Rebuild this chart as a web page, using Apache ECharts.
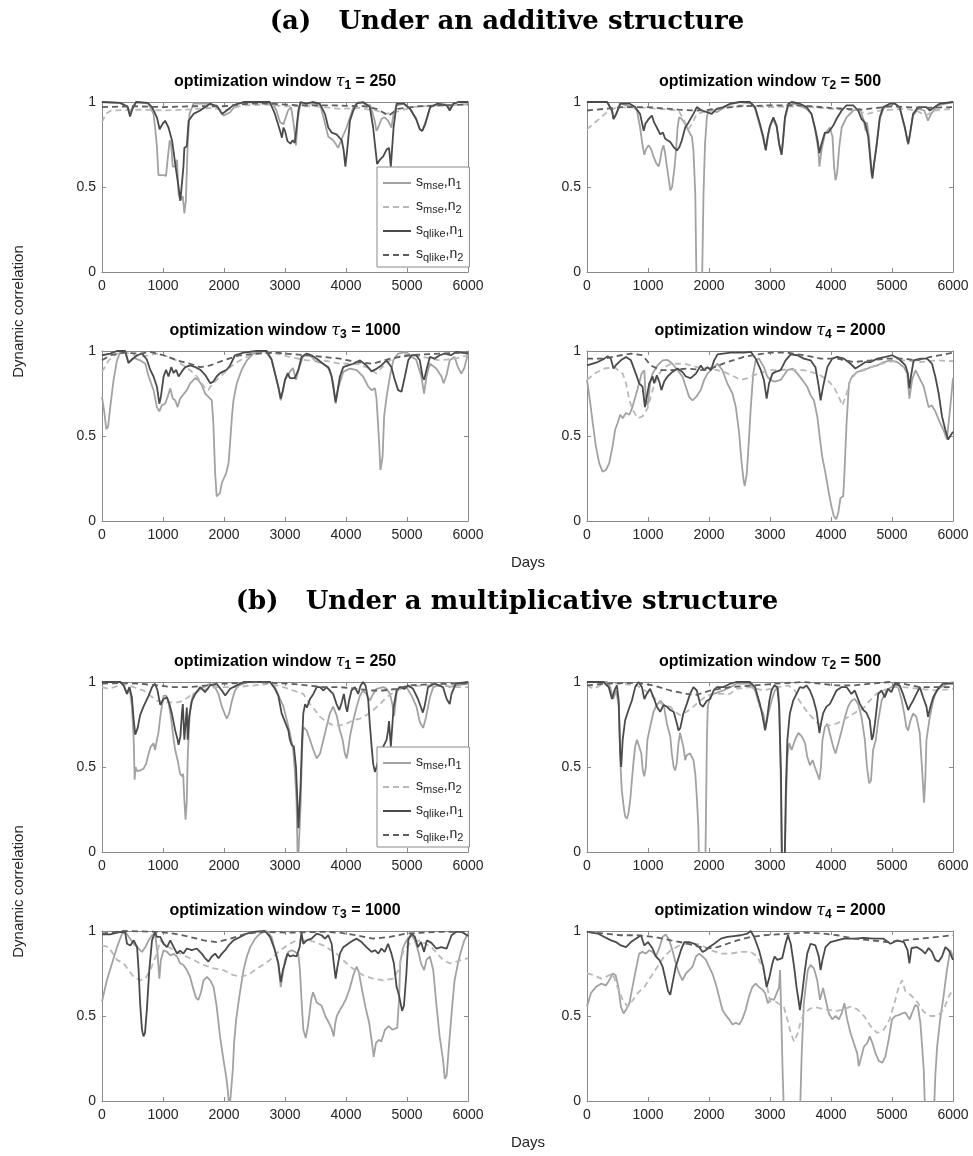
<!DOCTYPE html>
<html><head><meta charset="utf-8">
<script src="https://cdn.jsdelivr.net/npm/echarts@6/dist/echarts.min.js"></script>
<style>html,body{margin:0;padding:0;background:#fff}#c{width:973px;height:1156px}</style>
</head><body><div id="c"></div>
<script>
// ---------- data: [day, dynamic correlation] ----------
const A1_MSE_N1=[[0,1.0],[300,0.995],[420,0.975],[460,0.93],[500,0.97],[560,1.0],[760,0.99],[790,0.98],[845,0.93],[870,0.85],[900,0.74],[925,0.57],[955,0.56],[1010,0.57],[1050,0.565],[1075,0.66],[1110,0.775],[1135,0.745],[1160,0.62],[1200,0.62],[1230,0.66],[1255,0.46],[1280,0.42],[1325,0.445],[1350,0.345],[1375,0.42],[1405,0.755],[1435,0.93],[1500,0.99],[1700,0.99],[1880,0.98],[1935,0.95],[1990,0.92],[2100,0.94],[2210,0.99],[2500,1.0],[2800,0.99],[2860,0.95],[2920,0.88],[2975,0.87],[3050,0.95],[3100,0.97],[3150,0.85],[3180,0.745],[3210,0.9],[3250,0.99],[3500,0.99],[3580,0.98],[3630,0.91],[3710,0.795],[3790,0.775],[3845,0.745],[3870,0.73],[3910,0.765],[3950,0.8],[4010,0.85],[4065,0.91],[4120,0.97],[4200,1.0],[4400,0.98],[4470,0.89],[4500,0.83],[4530,0.85],[4580,0.9],[4635,0.91],[4690,0.89],[4745,0.85],[4780,0.93],[4830,0.98],[4950,0.99],[5050,0.96],[5150,0.9],[5210,0.84],[5250,0.83],[5300,0.88],[5380,0.97],[5500,0.99],[5650,0.985],[5700,0.96],[5760,0.99],[5850,1.0],[6000,0.995]];
const A1_MSE_N2=[[0,0.88],[60,0.93],[150,0.95],[600,0.955],[1000,0.95],[1400,0.955],[1800,0.965],[2000,0.95],[2300,0.98],[2700,0.985],[3000,0.975],[3500,0.975],[3900,0.96],[4200,0.965],[4500,0.95],[4650,0.93],[4800,0.94],[5100,0.97],[5500,0.98],[6000,0.985]];
const A1_QLIKE_N1=[[0,1.0],[300,0.995],[420,0.97],[460,0.915],[500,0.96],[560,1.0],[750,0.995],[820,0.97],[900,0.91],[945,0.84],[990,0.87],[1035,0.89],[1090,0.85],[1150,0.77],[1215,0.6],[1255,0.5],[1285,0.42],[1310,0.43],[1335,0.62],[1350,0.73],[1390,0.74],[1420,0.89],[1500,0.93],[1610,0.95],[1770,0.99],[1900,0.97],[1965,0.93],[2045,0.95],[2150,0.98],[2320,1.0],[2750,1.0],[2835,0.93],[2920,0.83],[2950,0.79],[2975,0.85],[3000,0.83],[3040,0.77],[3090,0.755],[3125,0.775],[3160,0.76],[3190,0.85],[3220,0.95],[3255,1.0],[3350,0.99],[3450,1.0],[3570,0.99],[3655,0.93],[3710,0.85],[3765,0.82],[3845,0.81],[3930,0.775],[3960,0.72],[3990,0.62],[4020,0.72],[4065,0.89],[4120,0.95],[4175,0.99],[4280,1.0],[4390,0.97],[4445,0.85],[4490,0.70],[4510,0.635],[4555,0.66],[4610,0.68],[4665,0.72],[4705,0.73],[4735,0.62],[4780,0.85],[4830,0.99],[4950,0.99],[5050,0.96],[5150,0.9],[5210,0.84],[5250,0.83],[5300,0.87],[5380,0.97],[5500,0.99],[5650,0.98],[5700,0.95],[5760,0.99],[5850,1.0],[6000,1.0]];
const A1_QLIKE_N2=[[0,0.97],[500,0.975],[1000,0.97],[1500,0.975],[2000,0.975],[2400,0.99],[2800,0.99],[3200,0.98],[3800,0.98],[4300,0.975],[4500,0.96],[4700,0.92],[4850,0.96],[5200,0.975],[6000,0.985]];

const A2_MSE_N1=[[0,1.0],[330,1.0],[410,0.95],[435,0.9],[480,0.93],[545,0.99],[765,0.97],[820,0.95],[870,0.85],[915,0.735],[940,0.69],[970,0.725],[1010,0.745],[1050,0.725],[1090,0.68],[1135,0.64],[1175,0.62],[1200,0.66],[1225,0.715],[1255,0.745],[1280,0.7],[1310,0.62],[1335,0.56],[1365,0.48],[1395,0.5],[1430,0.6],[1460,0.715],[1485,0.85],[1510,0.91],[1555,0.9],[1610,0.87],[1665,0.83],[1720,0.795],[1745,0.715],[1775,0.46],[1800,-0.2],[1880,-0.2],[1910,0.46],[1935,0.755],[1965,0.91],[1990,0.95],[2050,0.95],[2125,0.94],[2300,0.98],[2500,1.0],[2700,0.99],[2755,0.96],[2835,0.86],[2890,0.78],[2930,0.72],[2965,0.8],[3000,0.86],[3055,0.9],[3110,0.85],[3150,0.75],[3190,0.69],[3215,0.78],[3245,0.9],[3300,0.98],[3400,0.99],[3600,0.96],[3680,0.93],[3735,0.85],[3790,0.72],[3810,0.62],[3845,0.72],[3900,0.81],[3980,0.85],[4025,0.795],[4050,0.62],[4075,0.54],[4100,0.58],[4135,0.735],[4175,0.85],[4255,0.91],[4365,0.95],[4475,0.96],[4530,0.9],[4570,0.83],[4590,0.88],[4620,0.8],[4660,0.62],[4680,0.57],[4710,0.65],[4750,0.76],[4800,0.9],[4860,0.96],[4960,0.99],[5050,0.99],[5130,0.96],[5210,0.85],[5265,0.75],[5290,0.8],[5345,0.92],[5430,0.96],[5530,0.95],[5590,0.89],[5640,0.93],[5750,0.98],[6000,1.0]];
const A2_MSE_N2=[[0,0.84],[165,0.89],[330,0.94],[490,0.97],[1000,0.965],[1500,0.95],[1580,0.9],[1660,0.84],[1720,0.87],[1800,0.93],[2000,0.95],[2500,0.98],[3000,0.97],[3500,0.975],[4000,0.96],[4400,0.95],[4600,0.93],[4800,0.95],[5200,0.96],[5400,0.95],[5550,0.92],[5700,0.95],[6000,0.96]];
const A2_QLIKE_N1=[[0,1.0],[330,1.0],[410,0.95],[435,0.9],[480,0.93],[545,0.99],[700,0.99],[790,0.97],[870,0.93],[930,0.83],[955,0.87],[1010,0.9],[1065,0.92],[1100,0.88],[1145,0.85],[1200,0.81],[1245,0.82],[1280,0.785],[1320,0.775],[1365,0.765],[1420,0.735],[1475,0.715],[1515,0.735],[1555,0.775],[1610,0.85],[1665,0.88],[1745,0.93],[1800,0.97],[1880,0.95],[1965,0.94],[2045,0.93],[2125,0.96],[2235,0.97],[2345,0.99],[2510,1.0],[2670,1.0],[2755,0.97],[2835,0.87],[2890,0.795],[2930,0.715],[2965,0.8],[3000,0.86],[3055,0.91],[3110,0.86],[3150,0.755],[3190,0.69],[3215,0.78],[3245,0.91],[3300,0.99],[3355,1.0],[3490,0.99],[3600,0.97],[3680,0.93],[3735,0.85],[3780,0.775],[3810,0.7],[3845,0.755],[3900,0.82],[3955,0.82],[4035,0.86],[4090,0.9],[4175,0.95],[4255,0.98],[4365,0.98],[4445,0.95],[4500,0.9],[4555,0.88],[4610,0.795],[4635,0.7],[4665,0.58],[4680,0.55],[4700,0.62],[4745,0.735],[4800,0.91],[4855,0.97],[4965,0.99],[5050,0.99],[5125,0.97],[5210,0.85],[5265,0.755],[5290,0.8],[5345,0.93],[5430,0.97],[5565,0.97],[5620,0.95],[5700,0.97],[5780,0.99],[6000,1.0]];
const A2_QLIKE_N2=[[0,0.95],[300,0.96],[600,0.97],[1000,0.97],[1500,0.955],[1800,0.95],[2000,0.955],[2500,0.975],[3000,0.98],[3500,0.98],[4000,0.965],[4500,0.955],[5000,0.975],[5500,0.965],[6000,0.97]];

const A3_MSE_N1=[[0,0.73],[40,0.635],[70,0.54],[100,0.555],[135,0.67],[190,0.83],[245,0.945],[300,0.995],[380,0.995],[435,0.93],[520,0.96],[625,0.945],[710,0.925],[765,0.85],[845,0.77],[900,0.67],[940,0.645],[980,0.68],[1035,0.69],[1075,0.73],[1120,0.78],[1160,0.72],[1200,0.71],[1240,0.67],[1280,0.72],[1325,0.74],[1390,0.77],[1445,0.81],[1530,0.84],[1580,0.83],[1635,0.8],[1690,0.75],[1745,0.73],[1800,0.71],[1825,0.575],[1855,0.28],[1880,0.145],[1910,0.135],[1935,0.165],[1965,0.225],[1990,0.235],[2035,0.28],[2075,0.34],[2100,0.46],[2130,0.615],[2155,0.71],[2210,0.81],[2290,0.89],[2375,0.945],[2480,0.985],[2670,1.0],[2780,0.95],[2835,0.87],[2890,0.79],[2930,0.71],[2965,0.76],[3000,0.83],[3080,0.877],[3130,0.9],[3180,0.83],[3230,0.9],[3300,0.97],[3400,0.98],[3500,0.94],[3625,0.925],[3735,0.89],[3790,0.81],[3830,0.69],[3870,0.78],[3955,0.877],[4065,0.897],[4175,0.887],[4280,0.85],[4365,0.79],[4420,0.77],[4475,0.78],[4500,0.72],[4540,0.48],[4565,0.3],[4600,0.38],[4625,0.615],[4665,0.73],[4720,0.85],[4775,0.945],[4855,0.985],[4990,0.995],[5075,0.965],[5150,0.95],[5235,0.85],[5280,0.75],[5320,0.85],[5375,0.925],[5480,0.897],[5565,0.85],[5600,0.81],[5650,0.86],[5700,0.945],[5780,0.965],[5835,0.905],[5890,0.867],[5940,0.9],[6000,0.985]];
const A3_MSE_N2=[[0,0.877],[110,0.945],[245,0.985],[400,0.99],[625,0.965],[900,0.985],[1010,0.975],[1175,0.955],[1335,0.915],[1445,0.887],[1555,0.85],[1635,0.81],[1690,0.78],[1745,0.77],[1775,0.79],[1880,0.83],[1990,0.867],[2100,0.905],[2265,0.945],[2430,0.975],[2650,0.99],[2800,0.99],[3080,0.965],[3355,0.945],[3625,0.945],[3900,0.925],[4175,0.925],[4390,0.897],[4500,0.867],[4580,0.9],[4720,0.945],[4990,0.985],[5265,0.965],[5535,0.945],[5800,0.955],[6000,0.975]];
const A3_QLIKE_N1=[[0,0.975],[135,0.985],[245,1.0],[380,1.0],[435,0.93],[490,0.95],[575,0.975],[655,0.985],[735,0.95],[790,0.89],[845,0.85],[900,0.79],[940,0.69],[965,0.73],[1010,0.85],[1050,0.89],[1090,0.85],[1135,0.905],[1175,0.87],[1215,0.89],[1255,0.85],[1310,0.88],[1365,0.905],[1445,0.915],[1530,0.905],[1610,0.89],[1690,0.86],[1775,0.81],[1825,0.82],[1880,0.85],[1935,0.87],[1990,0.88],[2045,0.89],[2100,0.915],[2180,0.975],[2320,0.99],[2535,1.0],[2700,1.0],[2780,0.95],[2835,0.87],[2890,0.79],[2930,0.72],[2965,0.77],[3000,0.83],[3045,0.87],[3080,0.84],[3160,0.84],[3220,0.89],[3270,0.965],[3355,0.985],[3435,0.975],[3520,0.955],[3625,0.925],[3710,0.905],[3765,0.85],[3800,0.77],[3830,0.70],[3855,0.75],[3900,0.85],[3955,0.905],[4035,0.915],[4120,0.925],[4230,0.945],[4335,0.915],[4420,0.88],[4500,0.895],[4580,0.915],[4665,0.945],[4745,0.905],[4800,0.83],[4855,0.77],[4910,0.76],[4965,0.85],[5020,0.945],[5075,0.975],[5150,0.975],[5210,0.945],[5255,0.85],[5280,0.83],[5320,0.89],[5375,0.965],[5450,0.955],[5535,0.975],[5620,0.985],[5720,0.975],[5810,0.995],[6000,0.985]];
const A3_QLIKE_N2=[[0,0.945],[135,0.975],[355,0.99],[625,0.985],[790,0.995],[1010,0.975],[1230,0.945],[1445,0.925],[1610,0.905],[1775,0.915],[1990,0.945],[2265,0.975],[2535,0.985],[2860,0.99],[3000,0.985],[3500,0.97],[3900,0.955],[4175,0.935],[4445,0.925],[4720,0.955],[5050,0.975],[5535,0.985],[6000,0.99]];

const A4_MSE_N1=[[0,0.83],[40,0.73],[95,0.575],[145,0.44],[200,0.34],[255,0.29],[310,0.3],[365,0.34],[420,0.44],[460,0.535],[500,0.575],[545,0.625],[585,0.605],[640,0.635],[695,0.625],[745,0.67],[800,0.74],[855,0.81],[895,0.867],[940,0.887],[965,0.71],[995,0.68],[1035,0.81],[1075,0.867],[1155,0.915],[1240,0.945],[1320,0.948],[1400,0.925],[1485,0.887],[1565,0.85],[1620,0.79],[1675,0.73],[1730,0.71],[1790,0.73],[1865,0.77],[1920,0.83],[1975,0.867],[2030,0.887],[2085,0.905],[2140,0.925],[2220,0.887],[2300,0.81],[2385,0.75],[2440,0.67],[2495,0.515],[2530,0.36],[2565,0.245],[2585,0.205],[2620,0.28],[2655,0.48],[2685,0.67],[2725,0.867],[2765,0.945],[2820,0.955],[2900,0.905],[2955,0.85],[3010,0.83],[3075,0.82],[3175,0.83],[3285,0.887],[3370,0.897],[3450,0.867],[3530,0.83],[3610,0.79],[3665,0.74],[3720,0.71],[3775,0.615],[3820,0.48],[3855,0.38],[3910,0.28],[3965,0.165],[4005,0.09],[4045,0.03],[4085,0.01],[4120,0.05],[4155,0.135],[4200,0.145],[4220,0.28],[4255,0.575],[4295,0.81],[4345,0.85],[4430,0.877],[4540,0.887],[4650,0.905],[4760,0.915],[4865,0.935],[4975,0.945],[5085,0.935],[5195,0.905],[5250,0.867],[5285,0.72],[5330,0.83],[5385,0.887],[5465,0.83],[5520,0.79],[5600,0.67],[5655,0.68],[5710,0.645],[5790,0.575],[5845,0.535],[5900,0.48],[5955,0.67],[6000,0.84]];
const A4_MSE_N2=[[0,0.83],[120,0.867],[285,0.897],[450,0.905],[585,0.867],[640,0.81],[695,0.71],[745,0.655],[830,0.605],[910,0.615],[995,0.665],[1075,0.77],[1155,0.85],[1240,0.897],[1375,0.925],[1590,0.925],[1810,0.905],[2030,0.897],[2245,0.877],[2410,0.85],[2520,0.83],[2630,0.84],[2795,0.867],[3010,0.887],[3285,0.89],[3555,0.887],[3775,0.867],[3940,0.83],[4045,0.79],[4130,0.73],[4185,0.68],[4240,0.73],[4320,0.83],[4430,0.877],[4650,0.905],[4920,0.935],[5195,0.945],[5470,0.935],[5740,0.945],[6000,0.94]];
const A4_QLIKE_N1=[[0,0.915],[175,0.935],[285,0.955],[340,0.97],[390,0.955],[435,0.897],[470,0.915],[555,0.945],[640,0.965],[720,0.945],[800,0.867],[855,0.81],[910,0.79],[950,0.67],[980,0.73],[1020,0.81],[1075,0.85],[1100,0.81],[1145,0.857],[1185,0.82],[1220,0.77],[1265,0.82],[1320,0.85],[1400,0.877],[1485,0.897],[1565,0.877],[1620,0.85],[1700,0.84],[1785,0.867],[1865,0.915],[1920,0.887],[1975,0.905],[2030,0.887],[2085,0.945],[2140,0.98],[2355,0.99],[2575,0.99],[2685,0.995],[2765,0.955],[2850,0.887],[2900,0.83],[2945,0.72],[2985,0.81],[3040,0.867],[3090,0.877],[3175,0.887],[3255,0.945],[3340,0.98],[3450,0.975],[3555,0.955],[3665,0.945],[3745,0.905],[3800,0.79],[3830,0.71],[3870,0.79],[3940,0.905],[4020,0.955],[4100,0.965],[4210,0.955],[4320,0.925],[4400,0.897],[4480,0.915],[4565,0.935],[4650,0.935],[4760,0.955],[4895,0.965],[5000,0.975],[5110,0.955],[5220,0.915],[5260,0.867],[5285,0.78],[5310,0.85],[5355,0.945],[5465,0.955],[5575,0.955],[5655,0.925],[5710,0.85],[5765,0.75],[5820,0.615],[5875,0.535],[5920,0.48],[5955,0.5],[6000,0.525]];
const A4_QLIKE_N2=[[0,0.955],[285,0.955],[555,0.975],[720,0.985],[910,0.975],[1045,0.915],[1210,0.887],[1375,0.887],[1650,0.897],[1920,0.887],[2085,0.905],[2300,0.935],[2575,0.965],[2795,0.98],[3010,0.99],[3285,0.99],[3555,0.975],[3830,0.955],[4100,0.955],[4375,0.935],[4650,0.945],[4920,0.955],[5195,0.955],[5410,0.945],[5630,0.965],[6000,0.99]];

const B1_MSE_N1=[[0,1.0],[300,1.0],[355,0.98],[410,0.93],[450,0.97],[490,0.855],[520,0.66],[535,0.425],[550,0.5],[575,0.475],[625,0.48],[680,0.49],[725,0.52],[765,0.58],[800,0.62],[845,0.64],[870,0.6],[900,0.66],[925,0.7],[955,0.795],[980,0.855],[1010,0.92],[1050,0.92],[1090,0.88],[1130,0.795],[1175,0.66],[1200,0.6],[1240,0.54],[1280,0.46],[1310,0.445],[1330,0.46],[1350,0.305],[1370,0.19],[1390,0.3],[1405,0.56],[1430,0.755],[1455,0.87],[1500,0.93],[1580,0.95],[1665,0.97],[1770,0.99],[1850,0.97],[1910,0.93],[1965,0.855],[2020,0.805],[2045,0.785],[2085,0.815],[2130,0.89],[2180,0.95],[2240,0.98],[2400,1.0],[2755,1.0],[2835,0.97],[2920,0.9],[2975,0.855],[3030,0.775],[3080,0.7],[3135,0.6],[3165,0.46],[3190,0.29],[3210,-0.1],[3235,-0.1],[3255,0.27],[3280,0.6],[3300,0.735],[3355,0.715],[3410,0.66],[3465,0.6],[3520,0.55],[3575,0.58],[3630,0.66],[3680,0.735],[3735,0.815],[3790,0.855],[3845,0.805],[3900,0.715],[3945,0.66],[3980,0.58],[4010,0.55],[4035,0.6],[4065,0.68],[4120,0.775],[4175,0.855],[4230,0.92],[4280,0.95],[4335,0.93],[4390,0.89],[4445,0.93],[4500,0.96],[4610,0.97],[4665,0.96],[4720,0.93],[4760,0.87],[4790,0.8],[4830,0.94],[4880,0.97],[4990,0.97],[5075,0.92],[5155,0.855],[5210,0.765],[5265,0.73],[5310,0.79],[5375,0.91],[5430,0.97],[5600,0.99],[5700,0.97],[5800,0.98],[6000,0.99]];
const B1_MSE_N2=[[0,0.97],[100,0.96],[200,0.97],[350,0.99],[520,0.97],[680,0.95],[790,0.92],[900,0.89],[1065,0.88],[1230,0.88],[1335,0.89],[1445,0.92],[1610,0.95],[1880,0.97],[2200,0.97],[2500,0.98],[2750,0.99],[2975,0.97],[3135,0.95],[3300,0.93],[3410,0.87],[3490,0.835],[3575,0.795],[3680,0.765],[3790,0.745],[3900,0.745],[4010,0.755],[4120,0.775],[4230,0.785],[4335,0.805],[4445,0.835],[4555,0.87],[4665,0.91],[4830,0.95],[4990,0.97],[5265,0.98],[5540,0.98],[5810,0.97],[6000,0.97]];
const B1_QLIKE_N1=[[0,1.0],[300,1.0],[355,0.98],[410,0.93],[450,0.97],[490,0.91],[520,0.775],[545,0.69],[585,0.73],[625,0.805],[680,0.855],[765,0.92],[820,0.97],[870,0.99],[910,0.95],[955,0.865],[1010,0.9],[1065,0.91],[1105,0.87],[1145,0.815],[1200,0.715],[1240,0.66],[1255,0.63],[1285,0.68],[1310,0.815],[1325,0.87],[1350,0.66],[1375,0.78],[1390,0.85],[1405,0.66],[1430,0.8],[1475,0.89],[1530,0.93],[1610,0.97],[1690,0.94],[1770,0.98],[1880,0.99],[1965,0.95],[2020,0.92],[2100,0.96],[2210,0.98],[2320,1.0],[2755,1.0],[2835,0.96],[2890,0.92],[2945,0.815],[3000,0.765],[3055,0.715],[3080,0.66],[3110,0.63],[3145,0.62],[3180,0.5],[3200,0.325],[3220,0.14],[3235,0.15],[3255,0.385],[3280,0.66],[3300,0.815],[3330,0.87],[3360,0.85],[3410,0.9],[3465,0.93],[3520,0.97],[3575,0.97],[3630,0.95],[3680,0.97],[3735,0.95],[3790,0.93],[3845,0.87],[3890,0.835],[3930,0.88],[3965,0.93],[4000,0.85],[4020,0.825],[4050,0.89],[4090,0.95],[4145,0.97],[4200,0.93],[4240,0.98],[4280,1.0],[4320,0.98],[4365,0.89],[4390,0.755],[4420,0.62],[4445,0.52],[4475,0.47],[4500,0.5],[4555,0.58],[4610,0.62],[4665,0.66],[4690,0.715],[4705,0.77],[4735,0.62],[4780,0.85],[4830,0.95],[4880,0.97],[4960,0.96],[5020,0.98],[5100,0.96],[5180,0.9],[5230,0.85],[5260,0.82],[5290,0.86],[5345,0.97],[5450,0.99],[5590,0.97],[5650,0.9],[5700,0.87],[5730,0.93],[5800,0.99],[6000,1.0]];
const B1_QLIKE_N2=[[0,0.99],[350,0.995],[625,0.99],[900,0.98],[1170,0.97],[1445,0.97],[1720,0.98],[1990,0.99],[2540,1.0],[3080,0.99],[3355,0.98],[3630,0.97],[3900,0.97],[4175,0.96],[4445,0.95],[4610,0.95],[4830,0.96],[5040,0.98],[5540,0.99],[6000,0.99]];

const B2_MSE_N1=[[0,1.0],[330,1.0],[380,0.97],[430,0.9],[480,0.95],[520,0.855],[545,0.54],[570,0.365],[600,0.27],[625,0.21],[655,0.195],[680,0.23],[710,0.31],[735,0.42],[765,0.54],[790,0.62],[820,0.66],[855,0.62],[890,0.58],[915,0.48],[940,0.445],[965,0.5],[990,0.66],[1035,0.735],[1090,0.825],[1145,0.865],[1200,0.89],[1255,0.87],[1310,0.755],[1365,0.68],[1390,0.58],[1420,0.5],[1445,0.48],[1470,0.52],[1500,0.64],[1525,0.7],[1550,0.71],[1580,0.62],[1610,0.54],[1635,0.57],[1690,0.58],[1745,0.54],[1775,0.46],[1800,0.325],[1825,0.15],[1845,-0.2],[1935,-0.2],[1950,0.2],[1965,0.66],[1980,0.855],[2020,0.92],[2075,0.93],[2155,0.94],[2235,0.95],[2345,0.97],[2450,0.99],[2560,0.99],[2670,0.99],[2755,0.95],[2835,0.855],[2890,0.815],[2930,0.735],[2970,0.81],[3025,0.89],[3080,0.95],[3130,0.97],[3150,0.89],[3180,0.36],[3200,-0.2],[3235,-0.2],[3260,0.27],[3285,0.56],[3315,0.64],[3355,0.6],[3410,0.66],[3465,0.7],[3520,0.68],[3575,0.64],[3610,0.56],[3655,0.51],[3700,0.54],[3735,0.5],[3775,0.46],[3810,0.425],[3835,0.5],[3860,0.66],[3900,0.735],[3940,0.755],[3980,0.7],[4035,0.62],[4075,0.58],[4120,0.64],[4175,0.715],[4230,0.795],[4280,0.855],[4335,0.89],[4390,0.9],[4445,0.87],[4500,0.795],[4555,0.66],[4590,0.5],[4625,0.405],[4655,0.42],[4690,0.6],[4735,0.66],[4775,0.775],[4830,0.89],[4910,0.95],[4990,0.97],[5045,0.98],[5100,0.97],[5155,0.9],[5200,0.815],[5235,0.735],[5265,0.715],[5300,0.77],[5345,0.815],[5400,0.795],[5455,0.7],[5480,0.56],[5510,0.385],[5525,0.29],[5545,0.42],[5565,0.66],[5620,0.795],[5675,0.89],[5730,0.95],[5810,0.97],[5900,0.99],[6000,1.0]];
const B2_MSE_N2=[[0,0.98],[110,0.96],[270,0.99],[545,0.99],[820,0.98],[1035,0.93],[1145,0.89],[1255,0.865],[1365,0.855],[1445,0.825],[1530,0.805],[1635,0.825],[1745,0.855],[1855,0.89],[1965,0.92],[2075,0.93],[2235,0.93],[2345,0.93],[2450,0.96],[2670,0.97],[2890,0.95],[3130,0.97],[3300,0.98],[3410,0.95],[3465,0.9],[3545,0.855],[3655,0.805],[3765,0.765],[3870,0.735],[3980,0.745],[4090,0.755],[4200,0.775],[4310,0.8],[4420,0.825],[4530,0.845],[4635,0.89],[4745,0.93],[4850,0.95],[5020,0.97],[5180,0.97],[5455,0.96],[5730,0.95],[6000,0.96]];
const B2_QLIKE_N1=[[0,1.0],[270,1.0],[355,0.97],[410,0.9],[450,0.95],[490,0.98],[520,0.89],[545,0.58],[560,0.5],[585,0.66],[625,0.775],[680,0.835],[735,0.89],[790,0.97],[845,1.0],[900,0.97],[940,0.9],[980,0.93],[1035,0.96],[1090,0.91],[1145,0.855],[1200,0.825],[1255,0.865],[1310,0.855],[1365,0.835],[1420,0.825],[1475,0.755],[1500,0.715],[1530,0.73],[1580,0.815],[1635,0.87],[1690,0.93],[1745,0.97],[1800,0.95],[1855,0.87],[1900,0.855],[1965,0.89],[2020,0.9],[2075,0.95],[2130,0.97],[2235,0.97],[2345,0.99],[2450,1.0],[2670,1.0],[2755,0.97],[2835,0.87],[2880,0.795],[2920,0.715],[2950,0.78],[2990,0.89],[3025,0.95],[3070,0.98],[3120,0.97],[3150,0.855],[3180,0.46],[3200,-0.2],[3235,-0.2],[3260,0.365],[3285,0.66],[3325,0.815],[3380,0.89],[3435,0.93],[3490,0.97],[3545,0.965],[3600,0.98],[3655,0.95],[3710,0.9],[3765,0.825],[3810,0.7],[3835,0.755],[3870,0.815],[3925,0.855],[3980,0.87],[4035,0.91],[4090,0.95],[4175,0.97],[4255,0.97],[4335,0.93],[4390,0.95],[4475,0.87],[4530,0.835],[4580,0.82],[4635,0.775],[4670,0.66],[4690,0.68],[4720,0.755],[4775,0.93],[4830,0.95],[4880,0.91],[4935,0.96],[4990,0.94],[5045,0.99],[5125,0.98],[5180,0.93],[5235,0.87],[5265,0.835],[5290,0.855],[5345,0.89],[5400,0.93],[5455,0.97],[5510,0.91],[5565,0.855],[5590,0.795],[5630,0.855],[5675,0.91],[5755,0.96],[5835,0.99],[6000,0.99]];
const B2_QLIKE_N2=[[0,0.98],[270,0.99],[820,0.995],[1090,0.98],[1365,0.95],[1635,0.93],[1800,0.925],[2020,0.95],[2345,0.97],[2730,0.98],[3080,0.99],[3545,1.0],[3820,0.99],[4090,0.98],[4365,0.98],[4635,0.99],[4965,1.0],[5180,0.99],[5455,0.97],[5730,0.97],[6000,0.97]];

const B3_MSE_N1=[[0,0.585],[80,0.71],[165,0.81],[245,0.905],[330,0.985],[385,0.995],[440,0.965],[520,0.925],[600,0.897],[655,0.877],[710,0.905],[765,0.945],[820,0.975],[870,0.985],[910,0.867],[940,0.72],[965,0.83],[1010,0.887],[1065,0.877],[1120,0.857],[1175,0.865],[1230,0.85],[1280,0.81],[1335,0.8],[1390,0.77],[1445,0.73],[1500,0.655],[1545,0.605],[1580,0.595],[1620,0.635],[1665,0.71],[1720,0.73],[1775,0.71],[1830,0.67],[1880,0.555],[1935,0.38],[1990,0.245],[2035,0.145],[2060,0.07],[2090,-0.05],[2115,-0.05],[2145,0.185],[2165,0.34],[2200,0.48],[2235,0.575],[2275,0.67],[2320,0.77],[2375,0.85],[2430,0.905],[2510,0.955],[2590,0.985],[2700,1.0],[2780,0.965],[2835,0.887],[2890,0.81],[2930,0.67],[2965,0.75],[3000,0.83],[3055,0.877],[3110,0.887],[3165,0.877],[3220,0.86],[3245,0.77],[3270,0.6],[3300,0.42],[3340,0.37],[3380,0.45],[3430,0.6],[3460,0.64],[3520,0.58],[3600,0.56],[3660,0.5],[3720,0.46],[3760,0.43],[3800,0.38],[3820,0.45],[3850,0.5],[3900,0.535],[3950,0.565],[4000,0.6],[4060,0.66],[4120,0.74],[4175,0.79],[4210,0.76],[4260,0.66],[4320,0.55],[4380,0.46],[4430,0.33],[4455,0.26],[4490,0.34],[4540,0.36],[4580,0.35],[4640,0.42],[4700,0.44],[4760,0.42],[4840,0.43],[4870,0.6],[4890,0.82],[4935,0.9],[4965,0.925],[5020,0.96],[5075,0.975],[5130,0.945],[5180,0.887],[5230,0.81],[5280,0.77],[5320,0.83],[5375,0.85],[5430,0.77],[5480,0.575],[5535,0.38],[5590,0.245],[5620,0.13],[5650,0.15],[5700,0.38],[5745,0.575],[5780,0.71],[5835,0.81],[5890,0.887],[5940,0.945],[6000,0.985]];
const B3_MSE_N2=[[0,0.915],[110,0.905],[245,0.83],[355,0.81],[435,0.77],[520,0.73],[625,0.71],[710,0.72],[790,0.77],[900,0.867],[955,0.945],[1010,0.925],[1175,0.887],[1335,0.857],[1500,0.83],[1665,0.8],[1830,0.78],[1990,0.77],[2155,0.74],[2290,0.73],[2430,0.75],[2590,0.79],[2755,0.83],[2920,0.887],[3080,0.925],[3190,0.945],[3410,0.945],[3630,0.915],[3845,0.867],[4065,0.79],[4280,0.74],[4445,0.72],[4610,0.71],[4775,0.72],[4860,0.77],[4935,0.877],[5040,0.925],[5210,0.945],[5400,0.905],[5590,0.83],[5700,0.81],[5810,0.82],[6000,0.84]];
const B3_QLIKE_N1=[[0,0.98],[135,0.98],[300,0.995],[380,0.99],[410,0.925],[465,0.915],[520,0.945],[575,0.905],[600,0.77],[625,0.575],[655,0.42],[680,0.38],[705,0.4],[735,0.535],[775,0.77],[820,0.945],[870,0.995],[900,0.965],[955,0.965],[1010,0.925],[1065,0.905],[1120,0.945],[1175,0.905],[1230,0.867],[1280,0.885],[1335,0.867],[1390,0.897],[1470,0.887],[1555,0.897],[1635,0.867],[1690,0.84],[1745,0.82],[1800,0.85],[1855,0.867],[1910,0.84],[1965,0.867],[2020,0.887],[2075,0.915],[2155,0.945],[2265,0.965],[2375,0.985],[2480,0.995],[2670,1.0],[2755,0.965],[2835,0.887],[2890,0.81],[2930,0.70],[2965,0.77],[3000,0.81],[3040,0.867],[3080,0.85],[3135,0.857],[3190,0.85],[3240,0.905],[3270,0.99],[3300,0.925],[3355,0.945],[3435,0.955],[3520,0.985],[3600,0.975],[3655,0.955],[3710,0.975],[3765,0.925],[3800,0.81],[3830,0.72],[3860,0.79],[3900,0.867],[3955,0.905],[4035,0.925],[4120,0.945],[4175,0.955],[4255,0.935],[4335,0.905],[4420,0.877],[4475,0.887],[4530,0.867],[4580,0.897],[4635,0.877],[4690,0.925],[4745,0.867],[4785,0.81],[4830,0.67],[4870,0.62],[4920,0.53],[4950,0.56],[4990,0.75],[5020,0.945],[5075,0.985],[5130,0.965],[5180,0.905],[5230,0.935],[5280,0.877],[5325,0.945],[5400,0.93],[5480,0.897],[5560,0.905],[5650,0.897],[5730,0.975],[5810,0.995],[5890,0.995],[5940,0.985],[6000,0.97]];
const B3_QLIKE_N2=[[0,0.985],[355,1.0],[900,0.995],[1175,0.985],[1445,0.965],[1665,0.945],[1880,0.935],[2100,0.955],[2375,0.985],[2650,0.995],[3080,0.99],[3630,0.995],[3900,0.99],[4175,0.975],[4445,0.955],[4720,0.965],[4990,0.985],[5535,0.995],[6000,0.995]];

const B4_MSE_N1=[[0,0.555],[65,0.635],[145,0.67],[230,0.69],[310,0.68],[365,0.71],[420,0.75],[470,0.74],[515,0.67],[555,0.555],[600,0.515],[645,0.54],[695,0.575],[745,0.67],[800,0.77],[855,0.867],[910,0.877],[965,0.867],[1020,0.887],[1075,0.877],[1130,0.85],[1185,0.9],[1240,0.965],[1290,0.98],[1345,0.95],[1400,0.887],[1455,0.81],[1510,0.75],[1565,0.71],[1620,0.75],[1675,0.77],[1730,0.79],[1785,0.85],[1840,0.867],[1895,0.85],[1950,0.83],[2000,0.79],[2055,0.75],[2110,0.69],[2165,0.615],[2220,0.535],[2275,0.505],[2330,0.48],[2385,0.45],[2440,0.46],[2495,0.45],[2545,0.48],[2600,0.535],[2655,0.615],[2710,0.67],[2765,0.69],[2820,0.67],[2875,0.655],[2920,0.635],[2965,0.575],[3010,0.6],[3065,0.595],[3110,0.635],[3150,0.67],[3165,0.77],[3185,0.5],[3205,0.2],[3230,-0.1],[3490,-0.1],[3520,0.28],[3555,0.575],[3585,0.67],[3620,0.77],[3665,0.8],[3720,0.78],[3775,0.71],[3820,0.595],[3845,0.63],[3870,0.665],[3910,0.6],[3965,0.515],[4020,0.48],[4075,0.5],[4130,0.48],[4180,0.52],[4220,0.575],[4265,0.48],[4320,0.4],[4375,0.34],[4430,0.28],[4455,0.205],[4490,0.25],[4540,0.32],[4595,0.34],[4635,0.38],[4680,0.34],[4730,0.28],[4785,0.235],[4840,0.225],[4890,0.26],[4945,0.36],[5000,0.48],[5055,0.5],[5110,0.505],[5165,0.515],[5220,0.52],[5255,0.5],[5290,0.48],[5330,0.52],[5385,0.565],[5425,0.555],[5465,0.46],[5490,0.34],[5520,0.185],[5545,-0.1],[5685,-0.1],[5710,0.15],[5740,0.32],[5790,0.48],[5845,0.615],[5900,0.77],[5955,0.887],[6000,0.85]];
const B4_MSE_N2=[[0,0.75],[120,0.74],[230,0.72],[310,0.73],[420,0.75],[500,0.67],[585,0.595],[665,0.555],[745,0.59],[830,0.635],[940,0.67],[1045,0.73],[1155,0.79],[1265,0.85],[1375,0.887],[1540,0.92],[1700,0.93],[1860,0.92],[2030,0.887],[2195,0.867],[2355,0.867],[2520,0.877],[2685,0.877],[2790,0.85],[2900,0.77],[2950,0.68],[3000,0.585],[3090,0.585],[3175,0.565],[3230,0.55],[3285,0.48],[3340,0.4],[3395,0.35],[3445,0.39],[3500,0.46],[3555,0.515],[3665,0.545],[3775,0.55],[3880,0.54],[3990,0.535],[4100,0.53],[4210,0.54],[4320,0.555],[4430,0.54],[4540,0.5],[4650,0.44],[4755,0.4],[4865,0.42],[4960,0.48],[5055,0.595],[5110,0.67],[5165,0.71],[5220,0.645],[5300,0.625],[5410,0.585],[5520,0.525],[5630,0.5],[5740,0.5],[5845,0.535],[5930,0.615],[6000,0.655]];
const B4_QLIKE_N1=[[0,0.995],[175,0.985],[285,0.965],[395,0.945],[475,0.935],[555,0.915],[640,0.905],[720,0.935],[800,0.955],[885,0.975],[940,0.915],[1000,0.935],[1075,0.897],[1130,0.85],[1185,0.83],[1240,0.79],[1290,0.71],[1330,0.645],[1365,0.625],[1400,0.69],[1455,0.79],[1540,0.887],[1595,0.935],[1675,0.935],[1760,0.925],[1840,0.905],[1895,0.877],[1950,0.887],[2000,0.905],[2085,0.925],[2195,0.955],[2300,0.965],[2410,0.97],[2520,0.975],[2630,0.985],[2685,1.0],[2740,0.965],[2820,0.887],[2890,0.79],[2945,0.67],[2985,0.72],[3040,0.81],[3075,0.85],[3120,0.83],[3200,0.84],[3255,0.925],[3295,0.975],[3340,0.925],[3395,0.79],[3435,0.67],[3475,0.575],[3490,0.535],[3530,0.64],[3565,0.75],[3610,0.867],[3665,0.925],[3745,0.915],[3800,0.85],[3830,0.77],[3860,0.83],[3910,0.905],[3990,0.935],[4100,0.945],[4210,0.955],[4375,0.955],[4540,0.96],[4700,0.955],[4860,0.955],[4975,0.925],[5085,0.945],[5195,0.935],[5255,0.887],[5285,0.81],[5320,0.9],[5410,0.905],[5490,0.887],[5545,0.867],[5600,0.9],[5655,0.877],[5710,0.83],[5765,0.82],[5820,0.85],[5875,0.905],[5930,0.887],[6000,0.83]];
const B4_QLIKE_N2=[[0,0.995],[285,0.985],[555,0.975],[830,0.975],[1100,0.965],[1375,0.945],[1595,0.93],[1810,0.91],[1975,0.897],[2140,0.905],[2300,0.925],[2465,0.945],[2685,0.965],[2900,0.975],[3120,0.98],[3340,0.985],[3555,0.99],[3880,0.985],[4100,0.975],[4375,0.955],[4650,0.945],[4920,0.935],[5195,0.945],[5470,0.955],[5740,0.965],[6000,0.975]];

// ---------- labels ----------
const SERIES_NAMES=['smse_n1','smse_n2','sqlike_n1','sqlike_n2'];
const LEGEND_LABELS=['{m|s}{s|mse}{m|,n}{s|1}','{m|s}{s|mse}{m|,n}{s|2}','{m|s}{s|qlike}{m|,n}{s|1}','{m|s}{s|qlike}{m|,n}{s|2}'];
const TAU_INDEX=['1','2','3','4'];
const WINDOWS=['250','500','1000','2000'];
const PART_TITLES=['(a)   Under an additive structure','(b)   Under a multiplicative structure'];
const Y_LABEL='Dynamic correlation';
const X_LABEL='Days';

const PANELS=[
 [A1_MSE_N1,A1_MSE_N2,A1_QLIKE_N1,A1_QLIKE_N2],
 [A2_MSE_N1,A2_MSE_N2,A2_QLIKE_N1,A2_QLIKE_N2],
 [A3_MSE_N1,A3_MSE_N2,A3_QLIKE_N1,A3_QLIKE_N2],
 [A4_MSE_N1,A4_MSE_N2,A4_QLIKE_N1,A4_QLIKE_N2],
 [B1_MSE_N1,B1_MSE_N2,B1_QLIKE_N1,B1_QLIKE_N2],
 [B2_MSE_N1,B2_MSE_N2,B2_QLIKE_N1,B2_QLIKE_N2],
 [B3_MSE_N1,B3_MSE_N2,B3_QLIKE_N1,B3_QLIKE_N2],
 [B4_MSE_N1,B4_MSE_N2,B4_QLIKE_N1,B4_QLIKE_N2]
];

// ---------- layout & style ----------
const F='"Liberation Sans", Arial, Helvetica, sans-serif';
const AX='#8a8a8a', TXT='#262626';
const COLS=[102,587], W=366, ROWS=[102,351,682,931], H=170;
const LINE_STYLES=[
 {color:'#a2a2a2',type:'solid'},
 {color:'#b9b9b9',type:[6,4]},
 {color:'#4a4a4a',type:'solid'},
 {color:'#5e5e5e',type:[6,4]}
];

const grids=[],xAxes=[],yAxes=[],series=[],graphics=[];
function xAx(g,pos,lab){return {gridIndex:g,type:'value',position:pos,min:0,max:6000,interval:1000,
  axisLine:{show:true,onZero:false,lineStyle:{color:AX,width:1}},
  axisTick:{show:true,inside:true,length:4,lineStyle:{color:AX}},
  axisLabel:{show:lab,color:TXT,fontSize:14,fontFamily:F,margin:7,formatter:v=>String(v)},
  splitLine:{show:false}};}
function yAx(g,pos,lab){return {gridIndex:g,type:'value',position:pos,min:0,max:1,interval:0.5,
  axisLine:{show:true,onZero:false,lineStyle:{color:AX,width:1}},
  axisTick:{show:true,inside:true,length:4,lineStyle:{color:AX}},
  axisLabel:{show:lab,color:TXT,fontSize:14,fontFamily:F,margin:6,formatter:v=>String(v)},
  splitLine:{show:false}};}

PANELS.forEach((sers,i)=>{
  const part=Math.floor(i/4), k=i%4;
  const row=part*2+Math.floor(k/2), col=k%2;
  const left=COLS[col], top=ROWS[row];
  grids.push({left:left,top:top,width:W,height:H,show:false});
  xAxes.push(xAx(i,'bottom',true)); xAxes.push(xAx(i,'top',false));
  yAxes.push(yAx(i,'left',true)); yAxes.push(yAx(i,'right',false));
  sers.forEach((d,j)=>{
    series.push({type:'line',name:SERIES_NAMES[j],xAxisIndex:2*i,yAxisIndex:2*i,data:d,
      symbol:'none',showSymbol:false,clip:true,silent:true,animation:false,
      lineStyle:{color:LINE_STYLES[j].color,width:1.8,type:LINE_STYLES[j].type},
      itemStyle:{color:LINE_STYLES[j].color}});
  });
  graphics.push({type:'text',x:left+W/2,y:top-19,silent:true,style:{
    text:'{t|optimization window }{g|τ}{s|'+TAU_INDEX[k]+'}{t| = '+WINDOWS[k]+'}',
    align:'center',verticalAlign:'middle',textAlign:'center',textVerticalAlign:'middle',
    rich:{
      t:{fontSize:16,fontWeight:'bold',fontFamily:F,fill:'#000',color:'#000',lineHeight:18,verticalAlign:'top'},
      g:{fontSize:16,fontStyle:'italic',fontFamily:'"DejaVu Serif", serif',fill:'#000',color:'#000',lineHeight:18,verticalAlign:'top'},
      s:{fontSize:12,fontWeight:'bold',fontFamily:F,fill:'#000',color:'#000',lineHeight:12,padding:[10,0,0,0],verticalAlign:'bottom'}
    }}});
});

// part titles, axis labels
[0,1].forEach(p=>{
  const t0=ROWS[p*2], b1=ROWS[p*2+1]+H;
  graphics.push({type:'text',x:507,y:t0-80,silent:true,style:{text:PART_TITLES[p],
    font:'bold 26px "DejaVu Serif", serif',fill:'#000',align:'center',verticalAlign:'middle',textAlign:'center',textVerticalAlign:'middle'}});
  graphics.push({type:'text',x:19,y:(t0+b1)/2,rotation:Math.PI/2,silent:true,style:{text:Y_LABEL,
    font:'15px '+F,fill:TXT,align:'center',verticalAlign:'middle',textAlign:'center',textVerticalAlign:'middle'}});
  graphics.push({type:'text',x:528,y:b1+42,silent:true,style:{text:X_LABEL,
    font:'15px '+F,fill:TXT,align:'center',verticalAlign:'middle',textAlign:'center',textVerticalAlign:'middle'}});
});

const legends=[0,2].map(r=>({
  data:SERIES_NAMES.slice(),orient:'vertical',left:377,top:ROWS[r]+65,
  padding:[5,6,4,5],itemGap:5,itemWidth:28,itemHeight:12,
  backgroundColor:'#fff',borderColor:AX,borderWidth:1,borderRadius:0,
  selectedMode:false,
  itemStyle:{opacity:0,borderWidth:0},
  formatter:n=>LEGEND_LABELS[SERIES_NAMES.indexOf(n)],
  textStyle:{color:TXT,rich:{
    m:{fontSize:14,fontFamily:F,color:TXT,lineHeight:16,verticalAlign:'top'},
    s:{fontSize:11,fontFamily:F,color:TXT,lineHeight:11,padding:[8,0,0,0],verticalAlign:'bottom'}
  }}
}));

const chart=echarts.init(document.getElementById('c'),null,{renderer:'canvas'});
chart.setOption({
  animation:false,backgroundColor:'#fff',
  grid:grids,xAxis:xAxes,yAxis:yAxes,series:series,legend:legends,graphic:graphics
});
</script>
</body></html>
